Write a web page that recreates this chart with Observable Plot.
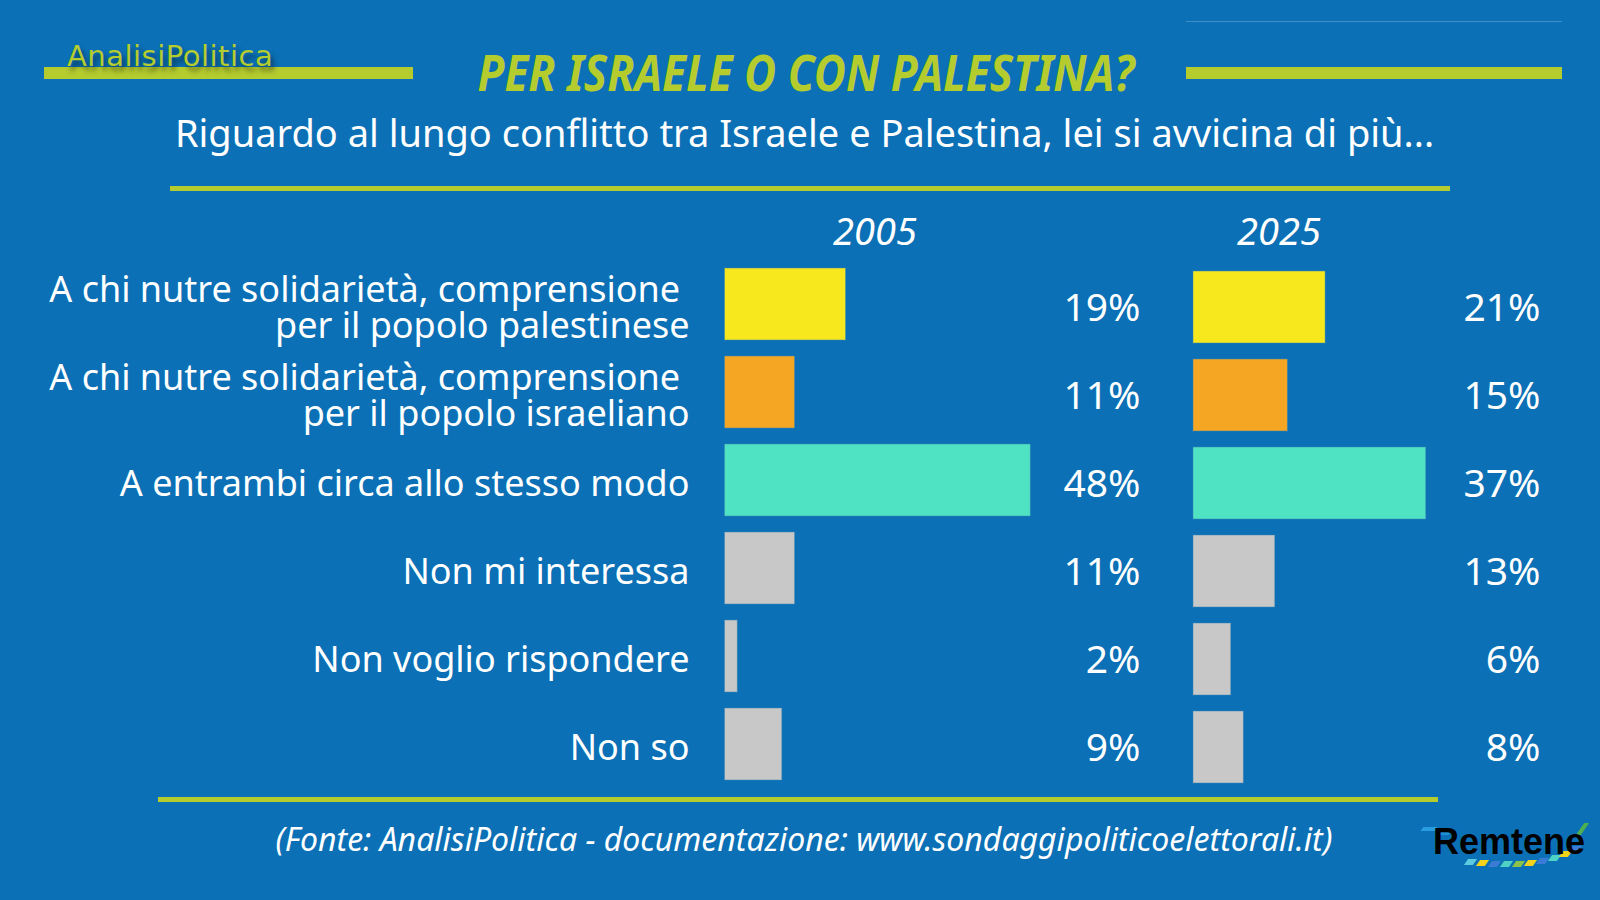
<!DOCTYPE html>
<html>
<head>
<meta charset="utf-8">
<script src="https://cdn.jsdelivr.net/npm/d3@7"></script>
<script src="https://cdn.jsdelivr.net/npm/@observablehq/plot@0.6"></script>
<style>
  html, body { margin: 0; padding: 0; background: #0b70b5; }
  #root { position: relative; width: 1600px; height: 900px; background: #0b70b5; overflow: hidden; font-family: "Noto Sans", sans-serif; color: #fff; }
  .abs { position: absolute; white-space: nowrap; }
  .rule { position: absolute; background: #b5cc2f; }
  .stripe { position: absolute; width: 9px; height: 6px; transform: skewX(-35deg); }
</style>
</head>
<body>
<div id="root">
  <div class="rule" style="left:44px;top:67px;width:369px;height:12px;"></div>
  <div class="abs" id="brand" style="left:67px;top:36px;font-family:'DejaVu Sans', sans-serif;font-weight:400;font-size:29px;letter-spacing:0.5px;color:#b5cc2f;text-shadow:3px 5px 5px rgba(0,0,0,0.5);line-height:40px;">AnalisiPolitica</div>
  <div class="rule" style="left:1186px;top:67px;width:376px;height:12px;"></div>
  <div class="abs" style="left:1186px;top:21px;width:376px;height:1px;background:#3f90c9;"></div>
  <div class="abs" id="title" style="left:0;width:1612px;text-align:center;top:40px;font-size:50px;font-weight:700;font-style:italic;color:#b5cc2f;line-height:64px;transform:scaleX(0.88);transform-origin:806px 0;"></div>
  <div class="abs" id="subtitle" style="left:0;width:1609px;text-align:center;top:106px;font-size:38px;line-height:52px;"></div>
  <div class="rule" style="left:170px;top:186px;width:1280px;height:5px;"></div>
  <div class="rule" style="left:158px;top:797px;width:1280px;height:5px;"></div>
  <div class="abs" id="year0" style="left:775px;width:200px;text-align:center;top:206px;font-size:38px;font-style:italic;line-height:48px;"></div>
  <div class="abs" id="year1" style="left:1179px;width:200px;text-align:center;top:206px;font-size:38px;font-style:italic;line-height:48px;"></div>
  <div class="abs" id="source" style="left:0;width:1608px;text-align:center;top:818px;font-size:32px;font-style:italic;line-height:42px;"></div>
  <div class="abs" id="logo" style="left:1410px;top:815px;width:190px;height:70px;">
    <div class="stripe" style="left:12px;top:12px;width:14px;height:4px;background:#2a9de0;"></div>
    <div class="stripe" style="left:30px;top:16px;width:10px;height:4px;background:#1f8fd6;"></div>
    <div class="stripe" style="left:56px;top:44px;background:#5ccbe0;"></div>
    <div class="stripe" style="left:68px;top:45px;background:#f2d21b;"></div>
    <div class="stripe" style="left:80px;top:46px;background:#3a7bd5;"></div>
    <div class="stripe" style="left:92px;top:46px;background:#4fd1c5;"></div>
    <div class="stripe" style="left:104px;top:46px;background:#8bc34a;"></div>
    <div class="stripe" style="left:116px;top:45px;background:#f2d21b;"></div>
    <div class="stripe" style="left:128px;top:43px;background:#3a7bd5;"></div>
    <div class="stripe" style="left:140px;top:40px;background:#4fd1c5;"></div>
    <div class="stripe" style="left:151px;top:36px;background:#f2d21b;"></div>
    <div class="stripe" style="left:161px;top:31px;background:#3a7bd5;"></div>
    <div class="stripe" style="left:170px;top:8px;width:5px;height:12px;background:#4caf50;"></div>
    <div class="abs" style="left:23px;top:5px;font-family:'Liberation Sans',Arial,sans-serif;font-weight:700;font-size:36px;color:#000;line-height:44px;">Remtene</div>
  </div>
</div>
<script>
// ---- data ----
const titleText = "PER ISRAELE O CON PALESTINA?";
const subtitleText = "Riguardo al lungo conflitto tra Israele e Palestina, lei si avvicina di più...";
const sourceText = "(Fonte: AnalisiPolitica - documentazione: www.sondaggipoliticoelettorali.it)";
const years = ["2005", "2025"];
const categories = [
  "A chi nutre solidarietà, comprensione\u00a0\nper il popolo palestinese",
  "A chi nutre solidarietà, comprensione\u00a0\nper il popolo israeliano",
  "A entrambi circa allo stesso modo",
  "Non mi interessa",
  "Non voglio rispondere",
  "Non so"
];
const values2005 = [19, 11, 48, 11, 2, 9];
const values2025 = [21, 15, 37, 13, 6, 8];
const barColors = ["#f7e81e", "#f5a623", "#4fe3c4", "#c8c8c8", "#c8c8c8", "#c8c8c8"];

document.getElementById("title").textContent = titleText;
document.getElementById("subtitle").textContent = subtitleText;
document.getElementById("source").textContent = sourceText;
document.getElementById("year0").textContent = years[0];
document.getElementById("year1").textContent = years[1];

const rows2005 = categories.map((c, i) => ({cat: c, v: values2005[i]}));
const rows2025 = categories.map((c, i) => ({cat: c, v: values2025[i]}));

const baseStyle = {background: "transparent", color: "#fff", fontFamily: "'Noto Sans', sans-serif", fontSize: "36px", overflow: "visible", position: "absolute", left: "0px", top: "0px"};

function barPanel(rows, x0, pxPerUnit, yOffset) {
  const maxV = d3.max(rows, d => d.v);
  return Plot.plot({
    width: 1600, height: 900,
    marginLeft: x0, marginRight: 0, marginTop: 0, marginBottom: 0,
    style: baseStyle,
    x: {domain: [0, maxV], range: [x0, x0 + maxV * pxPerUnit], axis: null},
    y: {domain: categories, range: [260.2 + yOffset, 788.2 + yOffset], paddingInner: 0.178, paddingOuter: 0.089, axis: null},
    color: {domain: categories, range: barColors},
    marks: [
      Plot.barX(rows, {x: "v", y: "cat", fill: "cat", stroke: "#3d86b3", strokeWidth: 0.8, strokeOpacity: 0.6})
    ]
  });
}

// text layer: category labels and percentages
const textLayer = Plot.plot({
  width: 1600, height: 900,
  marginLeft: 724.5, marginRight: 0, marginTop: 0, marginBottom: 0,
  style: baseStyle,
  x: {axis: null},
  y: {domain: categories, range: [262, 793.5], paddingInner: 0.19, paddingOuter: 0.095, axis: null},
  marks: [
    Plot.axisY({tickSize: 0, tickPadding: 35.5, label: null, fontSize: 36, lineHeight: 1.0, fill: "#fff"}),
    Plot.text(rows2005, {y: "cat", text: d => d.v + "%", frameAnchor: "right", textAnchor: "end", dx: 1140 - 1600, fontSize: 39, fill: "#fff"}),
    Plot.text(rows2025, {y: "cat", text: d => d.v + "%", frameAnchor: "right", textAnchor: "end", dx: 1540 - 1600, fontSize: 39, fill: "#fff"})
  ]
});

const root = document.getElementById("root");
root.appendChild(barPanel(rows2005, 724.5, 6.37, 0));
root.appendChild(barPanel(rows2025, 1193, 6.29, 2.5));
root.appendChild(textLayer);
</script>
</body>
</html>
